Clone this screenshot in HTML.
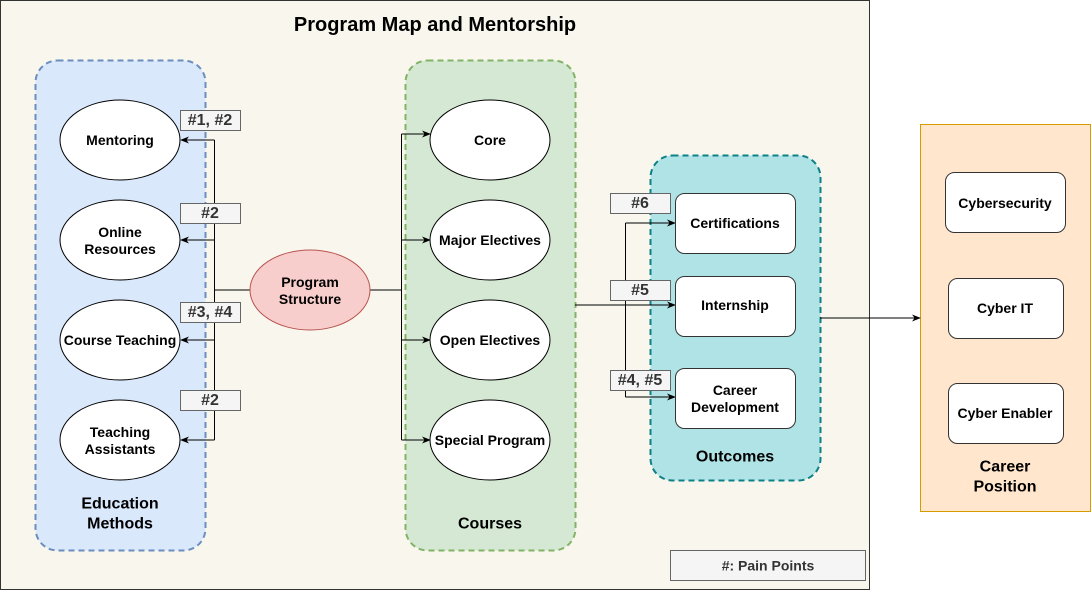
<!DOCTYPE html>
<html><head><meta charset="utf-8"><style>
html,body{margin:0;padding:0;background:#fff;}
svg{display:block;font-family:"Liberation Sans",Arial,sans-serif;}
text{font-weight:bold;text-anchor:middle;dominant-baseline:central;}
</style></head><body>
<svg width="1091" height="591" viewBox="0 0 1091 591" xmlns="http://www.w3.org/2000/svg">
<defs>
<marker id="a" viewBox="0 0 10 10" refX="9" refY="5" markerWidth="9" markerHeight="9" orient="auto-start-reverse" markerUnits="userSpaceOnUse">
<path d="M0,1 L10,5 L0,9 L3,5 Z" fill="#000"/></marker>
</defs>
<rect x="0.5" y="0.5" width="869" height="589" fill="#f9f7ed" stroke="#333"/>
<text x="435" y="25" font-size="20">Program Map and Mentorship</text>

<rect x="35.5" y="60.5" width="170" height="490" rx="22" fill="#dae8fc" stroke="#6c8ebf" stroke-width="2" stroke-dasharray="6,4"/>
<rect x="405.5" y="60.5" width="170" height="490" rx="22" fill="#d5e8d4" stroke="#82b366" stroke-width="2" stroke-dasharray="6,4"/>
<rect x="650.5" y="155.5" width="170" height="325" rx="22" fill="#b0e3e6" stroke="#0e8088" stroke-width="2" stroke-dasharray="6,4"/>
<rect x="920.5" y="124.5" width="170" height="387" fill="#ffe6cc" stroke="#d79b00"/>

<text x="120" y="504" font-size="16">Education</text>
<text x="120" y="524" font-size="16">Methods</text>
<text x="490" y="524" font-size="16">Courses</text>
<text x="735" y="457" font-size="16">Outcomes</text>
<text x="1005" y="467" font-size="16">Career</text>
<text x="1005" y="487" font-size="16">Position</text>

<g stroke="#000" fill="none" stroke-width="1">
<path d="M250,290 H214.5"/>
<path d="M214.5,140 V440"/>
<path d="M214.5,140 H181" marker-end="url(#a)"/>
<path d="M214.5,240 H181" marker-end="url(#a)"/>
<path d="M214.5,340 H181" marker-end="url(#a)"/>
<path d="M214.5,440 H181" marker-end="url(#a)"/>
<path d="M370,290 H401.5"/>
<path d="M401.5,134 V440"/>
<path d="M401.5,134 H430" marker-end="url(#a)"/>
<path d="M401.5,240 H430" marker-end="url(#a)"/>
<path d="M401.5,340 H430" marker-end="url(#a)"/>
<path d="M401.5,440 H430" marker-end="url(#a)"/>
<path d="M575,305 H675" marker-end="url(#a)"/>
<path d="M625.5,223 V397"/>
<path d="M625.5,223 H675" marker-end="url(#a)"/>
<path d="M625.5,397 H675" marker-end="url(#a)"/>
<path d="M820,318 H920" marker-end="url(#a)"/>
</g>

<g fill="#fff" stroke="#000">
<ellipse cx="120" cy="140" rx="60" ry="40"/>
<ellipse cx="120" cy="240" rx="60" ry="40"/>
<ellipse cx="120" cy="340" rx="60" ry="40"/>
<ellipse cx="120" cy="440" rx="60" ry="40"/>
<ellipse cx="490" cy="140" rx="60" ry="40"/>
<ellipse cx="490" cy="240" rx="60" ry="40"/>
<ellipse cx="490" cy="340" rx="60" ry="40"/>
<ellipse cx="490" cy="440" rx="60" ry="40"/>
</g>
<ellipse cx="310" cy="290" rx="60" ry="40" fill="#f8cecc" stroke="#b85450"/>

<g font-size="14">
<text x="120" y="140">Mentoring</text>
<text x="120" y="232">Online</text>
<text x="120" y="249">Resources</text>
<text x="120" y="340">Course Teaching</text>
<text x="120" y="432">Teaching</text>
<text x="120" y="449">Assistants</text>
<text x="490" y="140">Core</text>
<text x="490" y="240">Major Electives</text>
<text x="490" y="340">Open Electives</text>
<text x="490" y="440">Special Program</text>
<text x="310" y="282">Program</text>
<text x="310" y="299">Structure</text>
</g>

<g fill="#fff" stroke="#333">
<rect x="675.5" y="193.5" width="120" height="60" rx="9"/>
<rect x="675.5" y="276.5" width="120" height="60" rx="9"/>
<rect x="675.5" y="368.5" width="120" height="60" rx="9"/>
<rect x="945.5" y="172.5" width="120" height="60" rx="9"/>
<rect x="948.5" y="278.5" width="115" height="60" rx="9"/>
<rect x="948.5" y="383.5" width="115" height="60" rx="9"/>
</g>
<g font-size="14">
<text x="735" y="223">Certifications</text>
<text x="735" y="305">Internship</text>
<text x="735" y="390">Career</text>
<text x="735" y="407">Development</text>
<text x="1005" y="203">Cybersecurity</text>
<text x="1005" y="308">Cyber IT</text>
<text x="1005" y="413">Cyber Enabler</text>
</g>

<g fill="#f5f5f5" stroke="#666">
<rect x="180.5" y="110.5" width="60" height="20"/>
<rect x="180.5" y="203.5" width="60" height="20"/>
<rect x="180.5" y="302.5" width="60" height="20"/>
<rect x="180.5" y="390.5" width="60" height="20"/>
<rect x="610.5" y="193.5" width="60" height="20"/>
<rect x="610.5" y="280.5" width="60" height="20"/>
<rect x="610.5" y="370.5" width="60" height="20"/>
<rect x="670.5" y="550.5" width="195" height="30"/>
</g>
<g font-size="16" fill="#333">
<text x="210" y="120.5">#1, #2</text>
<text x="210" y="213.5">#2</text>
<text x="210" y="312.5">#3, #4</text>
<text x="210" y="400.5">#2</text>
<text x="640" y="203.5">#6</text>
<text x="640" y="290.5">#5</text>
<text x="640" y="380.5">#4, #5</text>
<text x="768" y="565.5" font-size="14">#: Pain Points</text>
</g>
</svg>
</body></html>
